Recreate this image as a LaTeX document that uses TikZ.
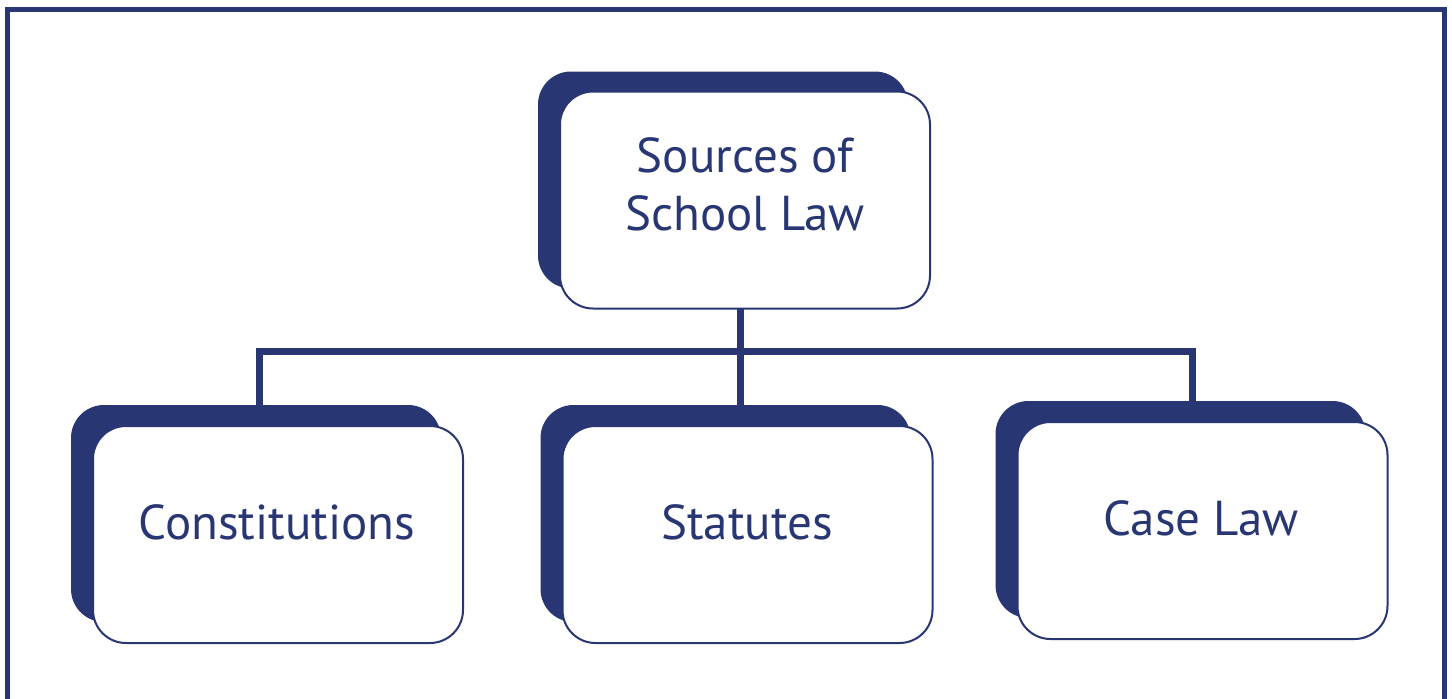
\documentclass[tikz,border=0pt]{standalone}
\usepackage{fontspec}
\setmainfont{PT Sans}
\definecolor{navy}{RGB}{40,54,115}
\tikzset{
  shadowbox/.style={draw=none, fill=navy, rounded corners=16.5pt, minimum width=185pt, minimum height=108.5pt, inner sep=0pt},
  frontbox/.style={draw=navy, line width=1pt, fill=white, rounded corners=16.5pt, minimum width=185pt, minimum height=108.5pt, inner sep=0pt},
  label/.style={text=navy, font=\fontsize{24.5pt}{29pt}\selectfont, inner sep=0pt, align=center},
  conn/.style={draw=navy, line width=3.5pt},
  frame/.style={draw=navy, line width=2.5pt}
}
\begin{document}
\begin{tikzpicture}[x=0.5pt,y=-0.5pt]
\useasboundingbox (0,0) rectangle (1452,698);
\clip (0,0) rectangle (1452,698);
\fill[white] (0,0) rectangle (1452,698);
\coordinate (fa) at (7.5,720);
\coordinate (fb) at (7.5,9.5);
\coordinate (fc) at (1444.5,9.5);
\coordinate (fd) at (1444.5,720);
\draw[frame] (fa) -- (fb) -- (fc) -- (fd);

% shadows
\node[shadowbox] (tops) at (723,180) {};
\node[shadowbox] (cons) at (256,513.5) {};
\node[shadowbox] (stas) at (725.5,513.5) {};
\node[shadowbox] (cases) at (1180.5,509.5) {};

% connectors
\coordinate (jl) at (259.5,351.5);
\coordinate (jm) at (740.5,351.5);
\coordinate (jr) at (1192,351.5);
\draw[conn] (jl |- cons.north) -- (jl) -- (jr) -- (jr |- cases.north);
\draw[conn] (jm |- tops.south) -- (jm |- stas.north);

% fronts
\node[frontbox] (top) at (745,200) {};
\node[frontbox] (con) at (278,534.5) {};
\node[frontbox] (sta) at (747.5,534.5) {};
\node[frontbox] (cas) at (1202.5,530.5) {};

% texts
\node[label, anchor=base] (toptxt) at (745,230) {Sources of\\School Law};
\node[label, anchor=base] (contxt) at (277,539) {Constitutions};
\node[label, anchor=base] (statxt) at (747,539) {Statutes};
\node[label, anchor=base] (castxt) at (1201,535) {Case Law};
\end{tikzpicture}
\end{document}
